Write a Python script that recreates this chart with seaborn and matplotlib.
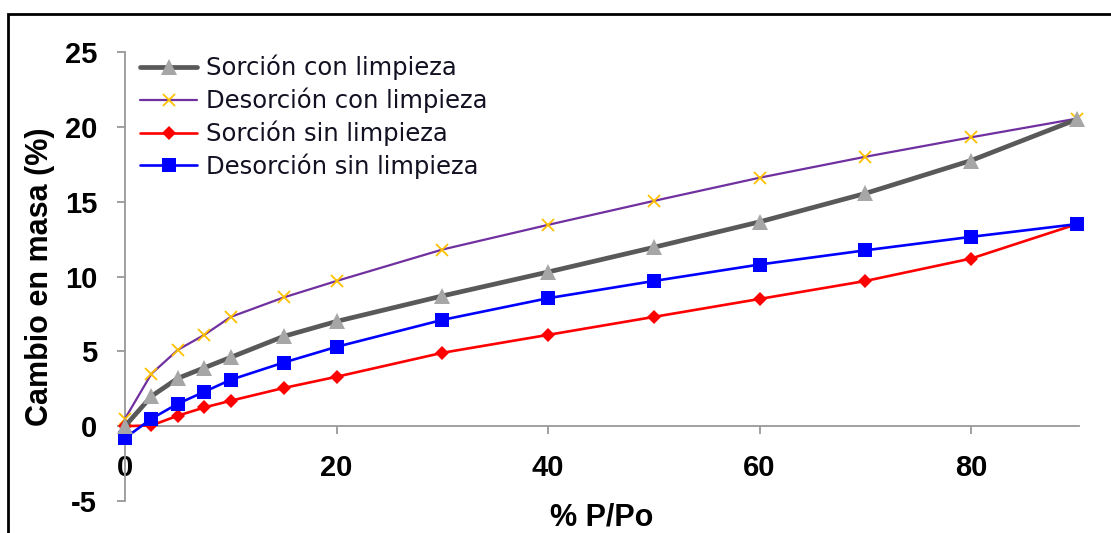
import matplotlib
matplotlib.use("Agg")
import matplotlib.pyplot as plt
import matplotlib.patches as mpatches
import seaborn as sns
import pandas as pd

# ---- data ----
pp = [0, 2.5, 5, 7.5, 10, 15, 20, 30, 40, 50, 60, 70, 80, 90]
sorcion_con = [0.0, 2.0, 3.2, 3.9, 4.6, 6.0, 7.0, 8.7, 10.3, 11.95, 13.65, 15.55, 17.75, 20.5]
desorcion_con = [0.5, 3.5, 5.1, 6.1, 7.3, 8.6, 9.7, 11.8, 13.45, 15.05, 16.6, 18.0, 19.3, 20.55]
sorcion_sin = [0.0, 0.05, 0.7, 1.25, 1.7, 2.55, 3.3, 4.9, 6.1, 7.3, 8.5, 9.7, 11.2, 13.5]
desorcion_sin = [-0.8, 0.5, 1.5, 2.3, 3.1, 4.25, 5.3, 7.1, 8.55, 9.7, 10.8, 11.75, 12.65, 13.5]

labels = ["Sorción con limpieza", "Desorción con limpieza",
          "Sorción sin limpieza", "Desorción sin limpieza"]
xticks = [0, 20, 40, 60, 80]
yticks = [-5, 0, 5, 10, 15, 20, 25]

sns.set_style("white")
plt.rcParams["font.family"] = ["Liberation Sans", "DejaVu Sans"]
plt.rcParams["axes.unicode_minus"] = False
plt.rcParams["text.color"] = "black"
plt.rcParams["axes.labelcolor"] = "black"
plt.rcParams["xtick.color"] = "black"
plt.rcParams["ytick.color"] = "black"

fig = plt.figure(figsize=(11.11, 5.33), dpi=100)
ax = fig.add_axes([125 / 1111, (533 - 501) / 533, (1079 - 125) / 1111, (501 - 52) / 533])

df = pd.DataFrame({"pp": pp, "sc": sorcion_con, "dc": desorcion_con,
                   "ss": sorcion_sin, "ds": desorcion_sin})

styles = {
    "sc": dict(color="#595959", lw=3.4, marker="^", ms=11, mfc="#A6A6A6", mec="#A6A6A6", mew=0, zorder=6),
    "dc": dict(color="#7030A0", lw=1.6, marker="x", ms=9, mfc="#FFC000", mec="#FFC000", mew=1.3, zorder=3),
    "ss": dict(color="#FF0000", lw=1.9, marker="D", ms=7, mfc="#FF0000", mec="#FF0000", mew=0, zorder=4),
    "ds": dict(color="#0000FF", lw=1.9, marker="s", ms=10, mfc="#0000FF", mec="#0000FF", mew=0, zorder=5),
}
for key, lab in zip(["sc", "dc", "ss", "ds"], labels):
    st = styles[key]
    sns.lineplot(data=df, x="pp", y=key, ax=ax, label=lab, color=st["color"],
                 linewidth=st["lw"], marker=st["marker"], markersize=st["ms"],
                 markerfacecolor=st["mfc"], markeredgecolor=st["mec"],
                 markeredgewidth=st["mew"], zorder=st["zorder"], clip_on=False)

ax.set_xlim(0, 90.2)
ax.set_ylim(-5, 25)
ax.set_xticks(xticks)
ax.set_yticks(yticks)

for s in ["top", "right"]:
    ax.spines[s].set_visible(False)
ax.spines["bottom"].set_position(("data", 0))
for s in ["left", "bottom"]:
    ax.spines[s].set_color("#999999")
    ax.spines[s].set_linewidth(1.3)

ax.tick_params(axis="both", direction="out", length=6, width=1.3, color="#999999",
               labelcolor="black", labelsize=21, pad=14, left=True, bottom=True)
for t in ax.get_xticklabels() + ax.get_yticklabels():
    t.set_fontweight("bold")

ax.set_xlabel("% P/Po", fontsize=22, fontweight="bold", va="top", color="black")
ax.xaxis.set_label_coords(0.5, (501 - 503) / 449)
ax.set_ylabel("Cambio en masa (%)", fontsize=22, fontweight="bold", va="center", color="black")
ax.yaxis.set_label_coords((40 - 125) / 954, 0.5)

leg = ax.legend(loc="upper left", bbox_to_anchor=(140 / 1111, 1 - 55 / 533),
                bbox_transform=fig.transFigure, frameon=False, borderpad=0,
                borderaxespad=0, handlelength=2.35, handletextpad=0.35,
                labelspacing=0.3, prop={"family": "DejaVu Sans", "size": 17.5})
for t in leg.get_texts():
    t.set_color("#111122")

rect = mpatches.Rectangle((8 / 1111, -0.5), 2.0, 0.5 + (533 - 14) / 533,
                          transform=fig.transFigure, fill=False, edgecolor="black",
                          linewidth=2.0)
fig.patches.append(rect)

fig.savefig("out.png", dpi=100)
